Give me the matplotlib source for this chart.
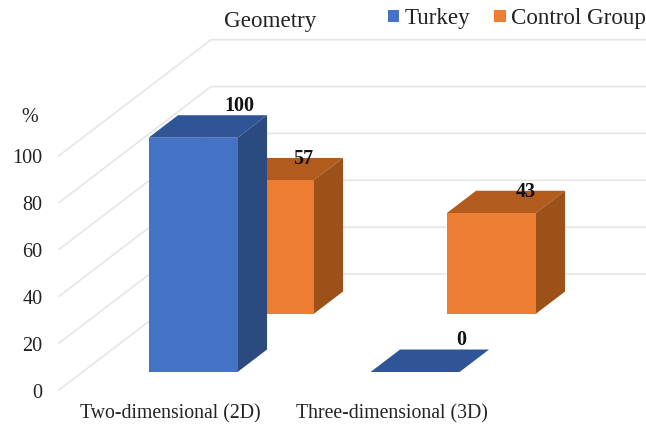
import matplotlib
matplotlib.use("Agg")
from matplotlib import pyplot as plt
from matplotlib.patches import Polygon, Rectangle

categories = ['Two-dimensional (2D)', 'Three-dimensional (3D)']
turkey = [100, 0]
control = [57, 43]
ticks = [0, 20, 40, 60, 80, 100]

plt.rcParams['font.family'] = ['Liberation Serif', 'DejaVu Serif']

# oblique projection, screen pixels with y pointing down
ORIGIN_X = 59
ORIGIN_Y = 390
PX_PER_UNIT = 2.343
FLOOR_DX = 152
FLOOR_DY = 116
WALL_RIGHT = 646

CAT_X = [125, 347]
BAR_W = 89
BAR_DEPTH = 0.194
TURKEY_D = 0.155
CONTROL_D = 0.655

TURKEY_COLORS = ('#4472C4', '#2B4A7F', '#2F5597')
CONTROL_COLORS = ('#ED7D31', '#9C5119', '#B15B1C')
GRID = '#E6E6E6'
TEXT = '#222222'


def proj(x, d, v):
    return x + FLOOR_DX * d, ORIGIN_Y - PX_PER_UNIT * v - FLOOR_DY * d


def bar3d(ax, x, d, v, colors, zorder):
    front, side, top = colors
    x2 = x + BAR_W
    d2 = d + BAR_DEPTH
    top_face = [proj(x, d, v), proj(x2, d, v), proj(x2, d2, v), proj(x, d2, v)]
    ax.add_patch(Polygon(top_face, closed=True, fc=top, ec='none', zorder=zorder))
    if v > 0:
        side_face = [proj(x2, d, 0), proj(x2, d2, 0), proj(x2, d2, v), proj(x2, d, v)]
        front_face = [proj(x, d, 0), proj(x2, d, 0), proj(x2, d, v), proj(x, d, v)]
        ax.add_patch(Polygon(side_face, closed=True, fc=side, ec='none', zorder=zorder))
        ax.add_patch(Polygon(front_face, closed=True, fc=front, ec='none', zorder=zorder))


fig = plt.figure(figsize=(6.46, 4.28), dpi=100)
ax = fig.add_axes([0, 0, 1, 1])
ax.set_xlim(0, 646)
ax.set_ylim(428, 0)
ax.axis('off')

# floor-to-wall gridlines and value labels
for t in ticks:
    x0, y0 = proj(ORIGIN_X, 0, t)
    x1, y1 = proj(ORIGIN_X, 1, t)
    ax.plot([x0, x1, WALL_RIGHT], [y0, y1, y1], color=GRID, lw=1.2, zorder=1,
            solid_joinstyle='miter')
    ax.text(42.5, y0 + 3, str(t), ha='right', va='center', fontsize=14.5, color=TEXT)
ax.text(30, 117, '%', ha='center', va='center', fontsize=14.5, color=TEXT)

# back row first so the Turkey bars sit in front
for i in range(len(categories)):
    bar3d(ax, CAT_X[i], CONTROL_D, control[i], CONTROL_COLORS, 2)
for i in range(len(categories)):
    bar3d(ax, CAT_X[i], TURKEY_D, turkey[i], TURKEY_COLORS, 3)

# value labels centred over the top faces
for i in range(len(categories)):
    lx, ly = proj(CAT_X[i] + BAR_W, TURKEY_D + BAR_DEPTH, turkey[i])
    ax.text(lx - 28, ly - 9.5, str(turkey[i]), ha='center', va='center',
            fontsize=14.5, fontweight='bold', color='#111111', zorder=5)
    lx, ly = proj(CAT_X[i] + BAR_W, CONTROL_D + BAR_DEPTH, control[i])
    ax.text(lx - 39.5, ly + 1, str(control[i]), ha='center', va='center',
            fontsize=14.5, fontweight='bold', color='#111111', zorder=5)

ax.text(170.5, 414, categories[0], ha='center', va='center', fontsize=14.2, color=TEXT)
ax.text(392, 414, categories[1], ha='center', va='center', fontsize=14.2, color=TEXT)

ax.text(270, 21, 'Geometry', ha='center', va='center', fontsize=16.6, color=TEXT)

# legend
ax.add_patch(Rectangle((387.5, 10), 11.5, 11.5, fc=TURKEY_COLORS[0], ec='none'))
ax.text(405, 18, 'Turkey', ha='left', va='center', fontsize=16.6, color=TEXT)
ax.add_patch(Rectangle((494, 10), 11.5, 11.5, fc=CONTROL_COLORS[0], ec='none'))
ax.text(511, 18, 'Control Group', ha='left', va='center', fontsize=16.6, color=TEXT)

fig.savefig('out.png', dpi=100)
